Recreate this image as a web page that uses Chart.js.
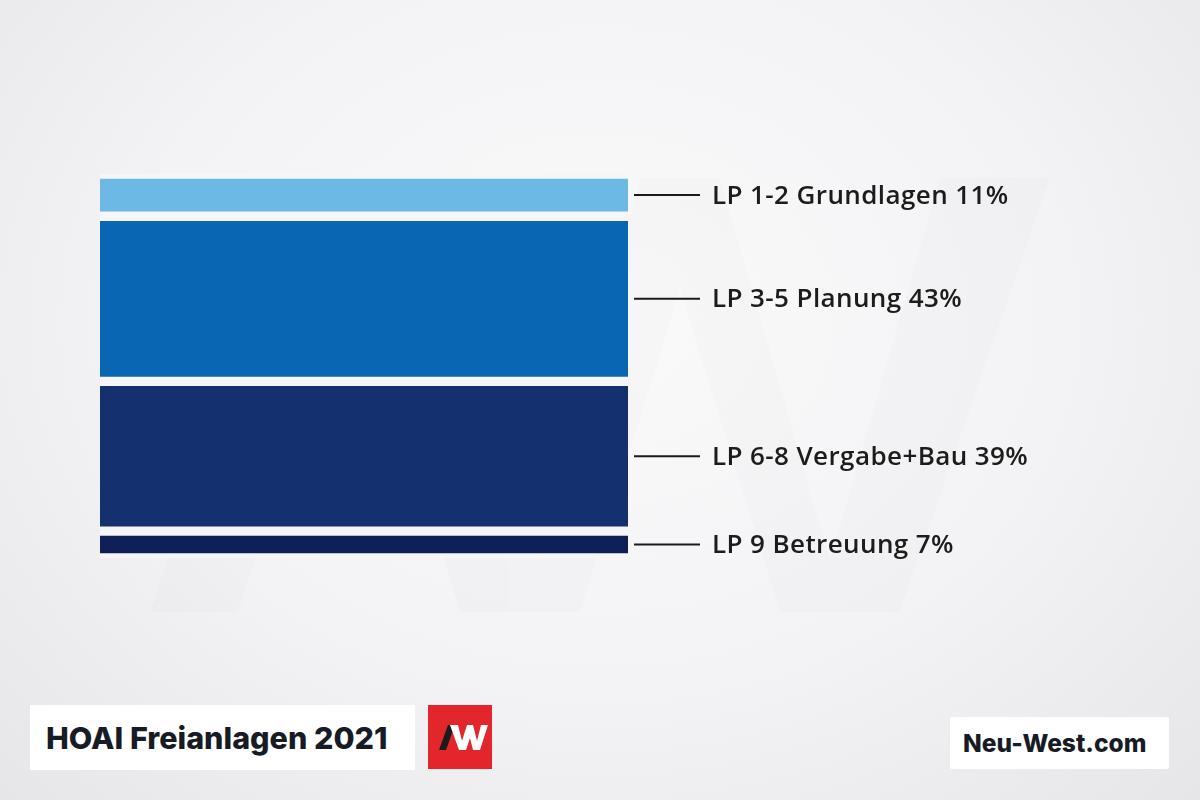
<!DOCTYPE html>
<html>
<head>
<meta charset="utf-8">
<script src="https://cdn.jsdelivr.net/npm/chart.js@4.4.1/dist/chart.umd.min.js"></script>
<style>
  html, body { margin: 0; padding: 0; }
  body {
    width: 1200px; height: 800px; position: relative; overflow: hidden;
    background: radial-gradient(ellipse at 50% 40%, #fafafb 0%, #f3f3f5 55%, #e6e6e9 100%);
    font-family: Inter, "Noto Sans", sans-serif;
  }
  #wm { position: absolute; left: 0; top: 0; }
  #myChart { position: absolute; left: 0; top: 0; }
  .box { position: absolute; background: #fff; color: #161b26; font-weight: 800; white-space: nowrap; }
  #title { left: 30px; top: 705px; width: 385px; height: 65px; font-size: 30.5px; line-height: 65px; padding-left: 16px; box-sizing: border-box; letter-spacing: 0; }
  #site { left: 950px; top: 717px; width: 219px; height: 52px; font-size: 24.5px; line-height: 52px; padding-left: 13px; box-sizing: border-box; border-radius: 2px; }
  #logo { position: absolute; left: 428px; top: 705px; width: 64px; height: 64px; background: #e3262b; }
</style>
</head>
<body>
<!-- faint watermark logo behind the chart -->
<svg id="wm" width="1200" height="800">
  <g fill="#000" opacity="0.012">
    <polygon points="150,612 292,178 380,178 238,612"/>
    <polygon points="330,178 430,178 540,560 640,178 720,178 830,560 940,178 1050,178 900,612 780,612 680,290 580,612 460,612"/>
  </g>
</svg>
<canvas id="myChart" width="1200" height="800"></canvas>
<div class="box" id="title">HOAI Freianlagen 2021</div>
<div id="logo">
  <svg width="64" height="64">
    <polygon points="11,45 20,20 27,20 18,45" fill="#1b1b1b"/>
    <polygon points="22,20 30,20 34,36 39,20 45,20 49,36 53,20 60,20 52,45 45,45 42,33 38,45 31,45" fill="#fff"/>
  </svg>
</div>
<div class="box" id="site">Neu-West.com</div>

<script>
// Leistungsphasen, von oben nach unten
const phasen = ['LP 1-2 Grundlagen', 'LP 3-5 Planung', 'LP 6-8 Vergabe+Bau', 'LP 9 Betreuung'];
const anteile = [11, 43, 39, 7];
const farben = ['#6bb9e4', '#0866b2', '#15306f', '#0e2156'];

const gapColor = '#f6f6f8';

// Beschriftung rechts mit Strich
const labelPlugin = {
  id: 'labels',
  afterDatasetsDraw(chart) {
    const c = chart.ctx;
    c.save();
    chart.data.datasets.forEach((ds, i) => {
      const el = chart.getDatasetMeta(i).data[0];
      const right = el.x + el.width / 2;
      const y = (el.y + el.base) / 2;
      c.strokeStyle = '#1a1a1a';
      c.lineWidth = 2;
      c.beginPath();
      c.moveTo(right + 6, y);
      c.lineTo(right + 72, y);
      c.stroke();
      c.fillStyle = '#1c1c1c';
      c.font = '600 26px "Open Sans"';
      c.letterSpacing = '0.4px';
      c.textBaseline = 'middle';
      c.fillText(ds.label + ' ' + anteile[i] + '%', right + 84, y + 1);
    });
    c.restore();
  }
};

const ctx = document.getElementById('myChart');
const chart = new Chart(ctx, {
  type: 'bar',
  data: {
    labels: ['HOAI'],
    datasets: phasen.map((p, i) => ({
      label: p,
      data: [anteile[i]],
      backgroundColor: farben[i],
      borderColor: gapColor,
      borderWidth: { top: 5, bottom: 5, left: 0, right: 0 },
      borderSkipped: false,
      barPercentage: 1,
      categoryPercentage: 1
    }))
  },
  options: {
    responsive: false,
    animation: false,
    layout: { padding: { left: 100, right: 572, top: 174, bottom: 242 } },
    scales: {
      x: { display: false, stacked: true },
      y: { display: false, stacked: true, min: 0, max: 100, reverse: true }
    },
    plugins: {
      legend: { display: false },
      tooltip: { enabled: false }
    }
  },
  plugins: [labelPlugin]
});
</script>
</body>
</html>
